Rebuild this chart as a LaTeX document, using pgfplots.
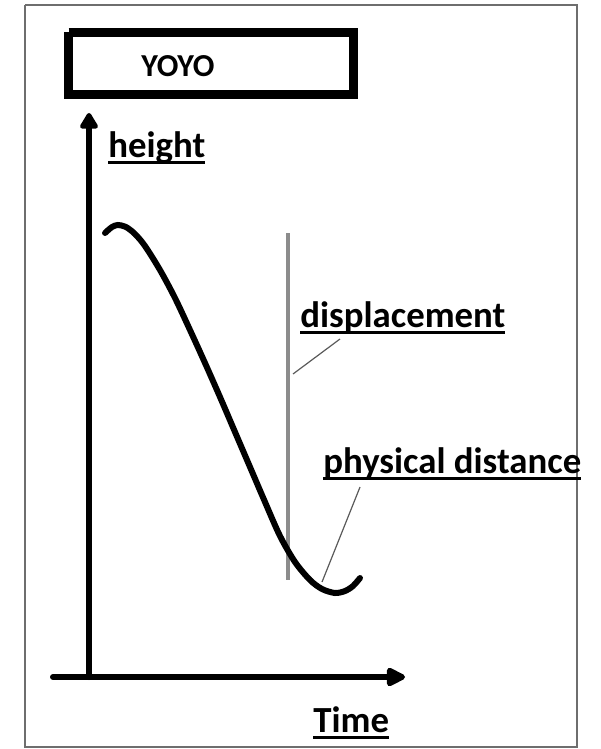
\documentclass[border=0pt]{standalone}
\usepackage{fontspec}
\setmainfont{Carlito}
\usepackage{pgfplots}
\pgfplotsset{compat=1.18}
\usetikzlibrary{arrows.meta}
\newcommand\ul[1]{\setbox0\hbox{#1}\rlap{\vrule height -2.2pt depth 3.3pt width \wd0}\box0}
\definecolor{framegray}{RGB}{110,110,110}
\definecolor{linegray}{RGB}{140,140,140}
\definecolor{leadgray}{RGB}{90,90,90}
\begin{document}
\begin{tikzpicture}
\begin{axis}[
  hide axis, scale only axis, clip=false,
  width=300pt, height=374.5pt,
  xmin=0, xmax=600, ymin=0, ymax=749, y dir=reverse,
]
% bounding region
\path (axis cs:0,0) rectangle (axis cs:600,749);
% outer frame
\addplot[framegray, line width=1pt] coordinates {(25,5) (577,5) (577,747) (25,747) (25,5)};
% title box
\addplot[black, line width=4.5pt, line join=miter] coordinates {(68.5,32.5) (353.5,32.5) (353.5,94.5) (68.5,94.5) (68.5,32.5)};
\node[anchor=base west, inner sep=0, font=\fontsize{16}{16}\selectfont\bfseries] at (axis cs:141,76) {YOYO};
% axes
\addplot[black, line width=3pt, line cap=round, -{Triangle[width=10pt,length=9pt,round]}] coordinates {(89,677) (89,113)};
\addplot[black, line width=3pt, line cap=round, -{Triangle[width=10pt,length=11pt,round]}] coordinates {(53,677) (405,677)};
% labels
\node[anchor=base west, inner sep=0, font=\fontsize{18.4}{18.4}\selectfont\bfseries] at (axis cs:108,157) {\ul{height}};
\node[anchor=base west, inner sep=0, font=\fontsize{18.4}{18.4}\selectfont\bfseries] at (axis cs:313,732) {\ul{Time}};
\node[anchor=base west, inner sep=0, font=\fontsize{18.4}{18.4}\selectfont\bfseries] at (axis cs:300,327) {\ul{displacement}};
\node[anchor=base west, inner sep=0, font=\fontsize{18.4}{18.4}\selectfont\bfseries] at (axis cs:323,473) {\ul{physical distance}};
% displacement line
\addplot[linegray, line width=1.6pt] coordinates {(288,233) (288,580)};
% leader lines
\addplot[leadgray, line width=0.6pt] coordinates {(340,339) (293,374)};
\addplot[leadgray, line width=0.6pt] coordinates {(360,487) (322,582)};
% curve
\addplot[black, line width=3pt, line cap=round, smooth, tension=0.5] coordinates {
(105,233) (112,227) (118,225) (126,227) (135,234) (145,246) (160,270) (175,298)
(190,330) (205,363) (220,397) (235,432) (250,467) (265,502) (280,536) (295,562)
(310,580) (322,589) (335,593) (345,591) (353,586) (360,578)};
\end{axis}
\end{tikzpicture}
\end{document}
